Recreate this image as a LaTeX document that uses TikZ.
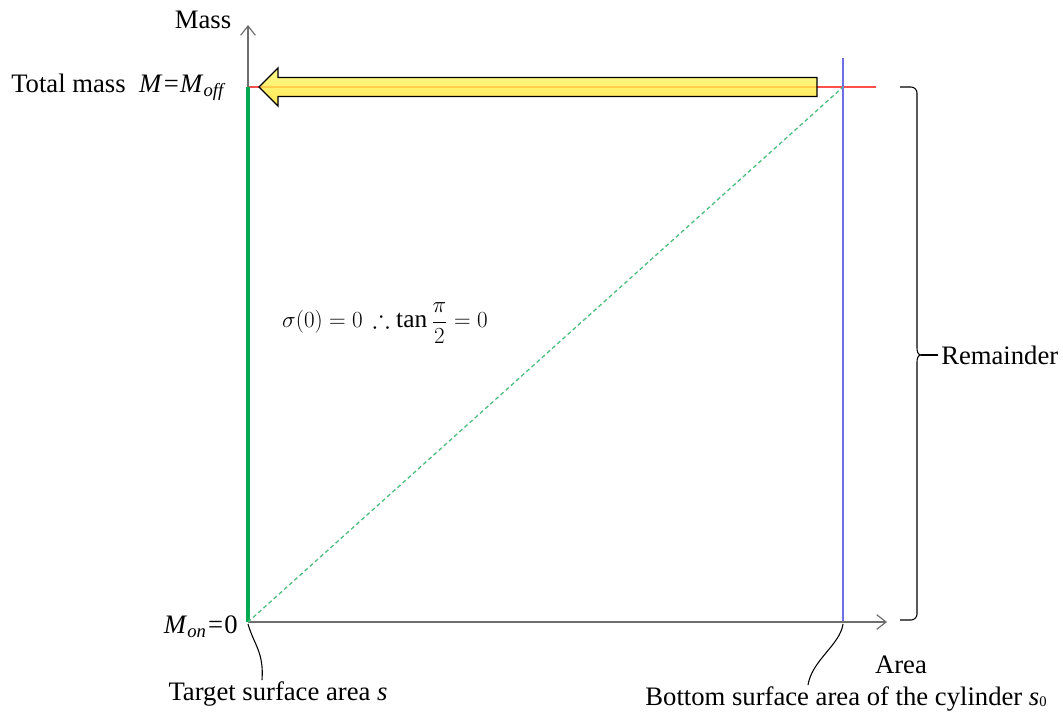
\documentclass[tikz,border=0pt]{standalone}
\usepackage{amsmath,amssymb}
\usepackage{fontspec}
\setmainfont{Liberation Serif}
\usetikzlibrary{arrows.meta}
\definecolor{axisgray}{RGB}{110,110,110}
\definecolor{mgreen}{RGB}{0,170,80}
\definecolor{dgreen}{RGB}{80,190,130}
\definecolor{mblue}{RGB}{110,110,230}
\definecolor{mred}{RGB}{255,80,80}
\definecolor{ylight}{RGB}{255,250,110}
\definecolor{ydark}{RGB}{255,225,40}
\begin{document}
\begin{tikzpicture}[x=0.75pt,y=-0.75pt,
  lbl/.style={font=\fontsize{20}{24}\selectfont, inner sep=0pt},
  axisline/.style={draw=axisgray, line width=0.9pt, -{Straight Barb[length=7pt,width=11pt,line width=0.9pt]}},
  thinblack/.style={draw=black, line width=0.8pt},
  mainline/.style={draw=mgreen, line width=3pt},
  diag/.style={draw=dgreen, line width=1pt, dash pattern=on 3pt off 2.2pt},
  cylline/.style={draw=mblue, line width=1.5pt},
  totline/.style={draw=mred, line width=1pt},
]
\useasboundingbox (0,0) rectangle (1063,715);
% coordinates
\coordinate (O) at (248,622);
\coordinate (Ytop) at (248,25);
\coordinate (Xend) at (887,622);
\coordinate (T) at (248,87);
\coordinate (Rend) at (876,87);
\coordinate (Btop) at (843,58);
\coordinate (Bbot) at (843,622);
\coordinate (C) at (843,87);
% lines
\draw[totline] (T) -- (Rend);
\draw[cylline] (Btop) -- (Bbot);
\draw[axisline] (O) -- (Xend);
\draw[axisline] (O) -- (Ytop);
\draw[mainline] (O) -- (T);
\draw[diag] (O) -- (C);
% block arrow (semi-transparent over the red line)
\shade[top color=ylight, bottom color=ydark, fill opacity=0.8]
  (259,87) -- (278,68) -- (278,77.5) -- (817,77.5) -- (817,96.5) -- (278,96.5) -- (278,106) -- cycle;
\draw[thinblack, line width=1pt, line join=miter]
  (259,87) -- (278,68) -- (278,77.5) -- (817,77.5) -- (817,96.5) -- (278,96.5) -- (278,106) -- cycle;
% brace
\draw[thinblack] (900,87) -- (911,87) to[out=0,in=90] (917,93) -- (917,348)
  to[out=-90,in=180] (921,355) to[out=180,in=90] (917,362) -- (917,614)
  to[out=-90,in=0] (911,620) -- (900,620);
\draw[thinblack] (921,355) -- (938,355);
% labels
\node[lbl] (mass) at (203,20) {Mass};
\node[lbl, anchor=west] (total) at (11,87) {Total mass\enspace\textit{M}\kern1pt=\kern1pt\textit{M}\textsubscript{\textit{off}}};
\node[lbl, anchor=east] (mon) at (238,627) {\textit{M}\textsubscript{\textit{on}}\kern1pt=\kern1pt0};
\node[lbl] (area) at (901,665) {Area};
\node[lbl] (target) at (278,694) {Target surface area \textit{s}};
\node[lbl] (bottom) at (846,699) {Bottom surface area of the cylinder \textit{s}\raisebox{-0.1ex}{\fontsize{11}{12}\selectfont 0}};
\node[lbl, anchor=west] (rem) at (941,355) {Remainder};
\node[inner sep=0pt, font=\fontsize{19}{23}\selectfont] (formula) at (385,323) {$\sigma(0)=0\,\therefore\tan\dfrac{\pi}{2}=0$};
% curly connectors
\coordinate (s1) at (248,624);
\coordinate (e1) at (262,680);
\coordinate (s2) at (843,624);
\coordinate (e2) at (808,685);
\draw[thinblack] (s1) .. controls (254,645) and (264,652) .. (e1);
\draw[thinblack] (s2) .. controls (840,645) and (812,660) .. (e2);
\end{tikzpicture}
\end{document}
